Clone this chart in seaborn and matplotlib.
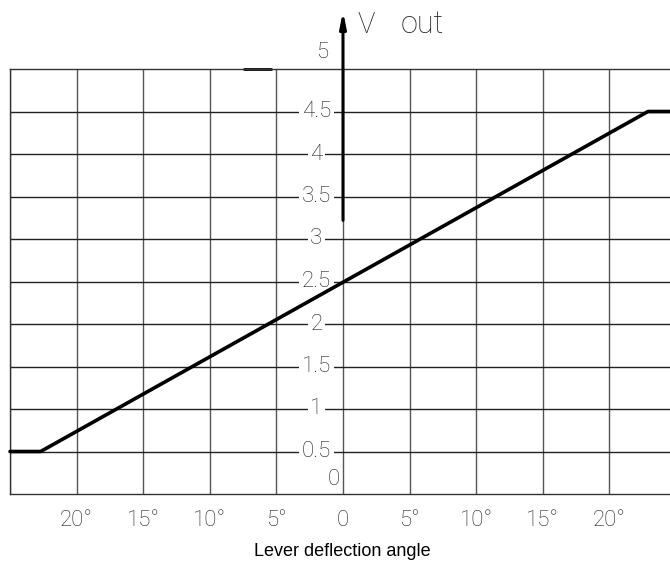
import matplotlib
matplotlib.use("Agg")
import matplotlib.pyplot as plt
import seaborn as sns
import pandas as pd

# data
angle_pts = [-25.0, -22.7, 22.9, 24.6]
vout_pts = [0.5, 0.5, 4.5, 4.5]
x_grid = [-25, -20, -15, -10, -5, 0, 5, 10, 15, 20]
x_tick_vals = [-20, -15, -10, -5, 0, 5, 10, 15, 20]
x_tick_labels = ["20°", "15°", "10°", "5°", "0", "5°", "10°", "15°", "20°"]
y_tick_vals = [0.5, 1, 1.5, 2, 2.5, 3, 3.5, 4, 4.5]
y_tick_labels = ["0.5", "1", "1.5", "2", "2.5", "3", "3.5", "4", "4.5"]

sns.set_style("white")
plt.rcParams['font.family'] = ['DejaVu Sans']

fig = plt.figure(figsize=(6.7, 5.75), dpi=100)
ax = fig.add_axes([10 / 670, (575 - 494) / 575, 660 / 670, 425 / 575])
ax.set_xlim(-25, 24.55)
ax.set_ylim(0, 5)

ax.spines["right"].set_visible(False)
for s in ["left", "bottom", "top"]:
    ax.spines[s].set_color("#333333")
    ax.spines[s].set_linewidth(1.0)

for xv in x_grid:
    ax.axvline(xv, color="#555555", lw=1.0, zorder=1)
for yv in y_tick_vals:
    ax.axhline(yv, color="#222222", lw=1.0, zorder=1)
# small heavier stroke on the top border
ax.plot([-7.4, -5.4], [5, 5], color="black", lw=2, clip_on=False, zorder=2)

df = pd.DataFrame({"angle": angle_pts, "vout": vout_pts})
sns.lineplot(data=df, x="angle", y="vout", ax=ax, color="black", lw=2.6,
             zorder=5, clip_on=False)

ax.set_xticks([])
ax.set_yticks([])
ax.set_xlabel("")
ax.set_ylabel("")

light = dict(family=["Roboto", "DejaVu Sans"], weight="light", color="#222222")
for v, lab in zip(y_tick_vals, y_tick_labels):
    ax.text(-2.0, v, lab, ha="center", va="center", fontsize=16,
            bbox=dict(facecolor="white", edgecolor="none", pad=2), zorder=4, **light)
ax.text(-1.6, 5.19, "5", ha="center", va="center", fontsize=16, clip_on=False, **light)
ax.text(-0.7, 0.17, "0", ha="center", va="center", fontsize=16, zorder=4, **light)

for v, lab in zip(x_tick_vals, x_tick_labels):
    ax.text(v, -0.31, lab, ha="center", va="center", fontsize=16, clip_on=False, **light)

# vertical axis arrow
ax.annotate("", xy=(0, 5.68), xytext=(0, 3.22), annotation_clip=False,
            arrowprops=dict(arrowstyle="-|>,head_length=0.9,head_width=0.18",
                            color="black", lw=2.2, shrinkA=0, shrinkB=0), zorder=6)
ax.text(1.1, 5.52, "V", ha="left", va="center", fontsize=21, clip_on=False, **light)
ax.text(4.3, 5.52, "out", ha="left", va="center", fontsize=22, clip_on=False, **light)

fig.text(342 / 670, 1 - 552 / 575, "Lever deflection angle", ha="center", va="center",
         fontsize=13, family="Liberation Sans", color="black")

fig.savefig("out.png", dpi=100)
